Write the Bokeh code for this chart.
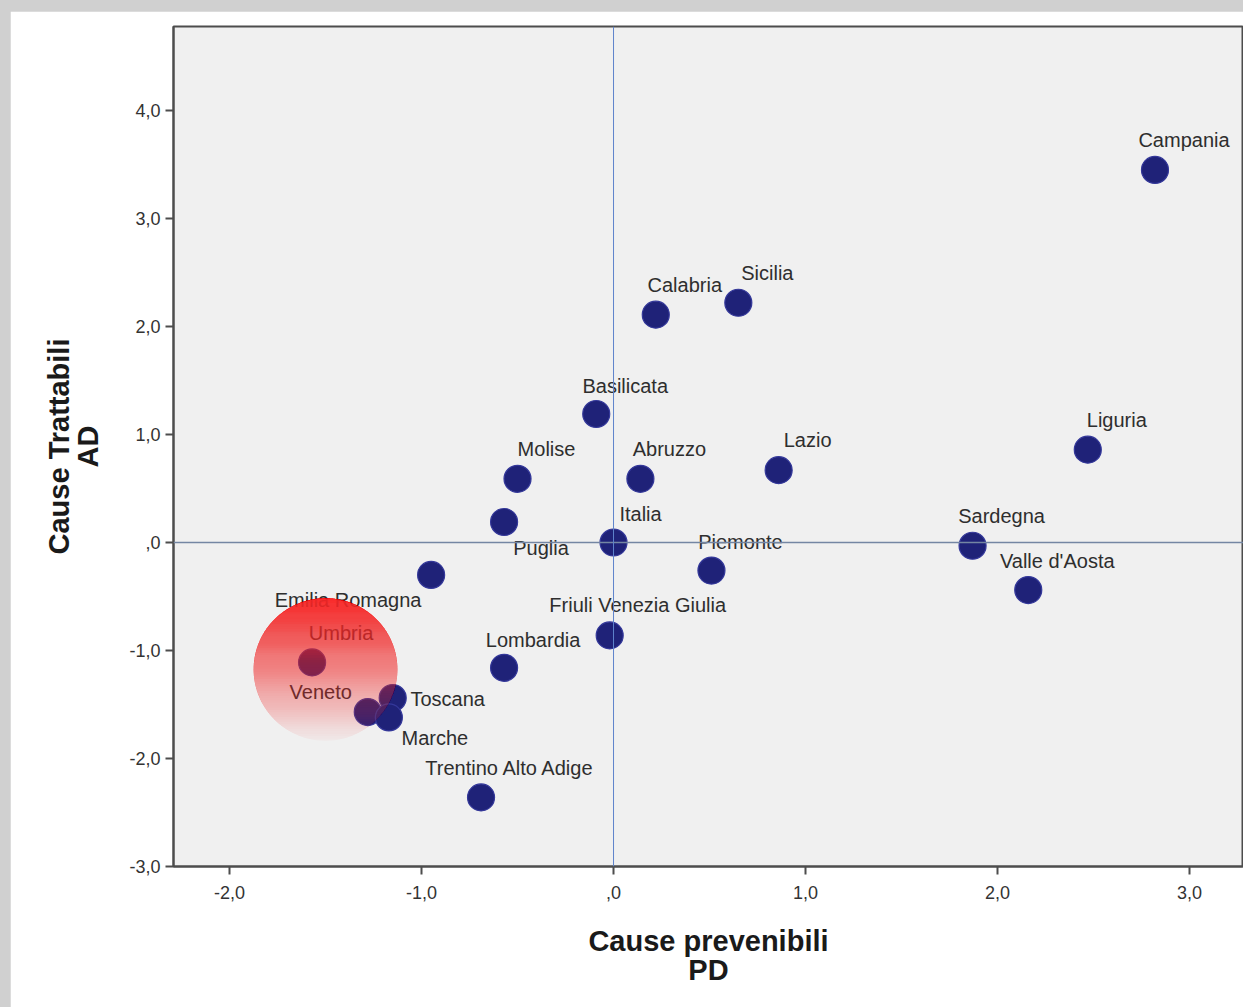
import numpy as np
from bokeh.plotting import figure
from bokeh.models import Range1d, Span, ColumnDataSource, FixedTicker
from bokeh.layouts import column
from bokeh.embed import file_html
from bokeh.resources import INLINE
from bokeh.core.properties import value

# ---------------- data ----------------
regions = ["Campania", "Sicilia", "Calabria", "Basilicata", "Molise", "Abruzzo",
           "Lazio", "Liguria", "Puglia", "Italia", "Piemonte", "Sardegna",
           "Valle d'Aosta", "Emilia Romagna", "Friuli Venezia Giulia", "Lombardia",
           "Umbria", "Veneto", "Toscana", "Marche", "Trentino Alto Adige"]
pd_score = [2.82, 0.65, 0.22, -0.09, -0.50, 0.14,
            0.86, 2.47, -0.57, 0.00, 0.51, 1.87,
            2.16, -0.95, -0.02, -0.57,
            -1.57, -1.28, -1.15, -1.17, -0.69]
ad_score = [3.45, 2.22, 2.11, 1.19, 0.59, 0.59,
            0.67, 0.86, 0.19, 0.00, -0.26, -0.03,
            -0.44, -0.30, -0.86, -1.16,
            -1.11, -1.57, -1.44, -1.62, -2.36]

x_ticks = [-2, -1, 0, 1, 2, 3]
x_tick_labels = ["-2,0", "-1,0", ",0", "1,0", "2,0", "3,0"]
y_ticks = [-3, -2, -1, 0, 1, 2, 3, 4]
y_tick_labels = ["-3,0", "-2,0", "-1,0", ",0", "1,0", "2,0", "3,0", "4,0"]

x_title = "Cause prevenibili\nPD"
y_title = "Cause Trattabili\nAD"

# label placement (screen pixels, relative to the point)
label_dx = [29, 29, 29, 29, 29, 29, 29, 29, 37, 27, 29, 29, 29, -83, 28, 29, 29, -47, 55, 46, 29]
label_dy = [-30, -30, -30, -28, -30, -30, -30, -30, 26, -29, -29, -30, -29, 25, -30, -28, -29, -20, 1, 21, -29]

# highlight (annotation) around the Umbria / Veneto group
hl_cx, hl_cy = -1.50, -1.176
hl_rx, hl_ry = 0.375, 0.66

# ---------------- figure ----------------
p = figure(width=1233, height=996,
           x_range=Range1d(-2.2917, 3.281), y_range=Range1d(-3.0, 4.778),
           output_backend="svg", toolbar_location=None,
           min_border_left=163, min_border_top=15, min_border_bottom=141,
           min_border_right=0)
p.background_fill_color = "#f0f0f0"
p.border_fill_color = "white"
p.outline_line_color = "#4d4d4d"
p.outline_line_width = 2
p.grid.visible = False

for ax in (p.xaxis, p.yaxis):
    ax.axis_line_color = "#4d4d4d"
    ax.axis_line_width = 2
    ax.major_tick_line_color = "#4d4d4d"
    ax.major_tick_line_width = 2
    ax.major_tick_out = 8
    ax.major_tick_in = 0
    ax.minor_tick_out = 0
    ax.minor_tick_in = 0
    ax.major_label_text_font = "Liberation Sans"
    ax.major_label_text_font_size = "18px"
    ax.major_label_text_color = "#333333"
    ax.axis_label_text_font = "Liberation Sans"
    ax.axis_label_text_font_style = "bold"
    ax.axis_label_text_font_size = "29px"
    ax.axis_label_text_color = "#1a1a1a"
    ax.axis_label_text_line_height = 0.93

p.xaxis.ticker = FixedTicker(ticks=x_ticks)
p.yaxis.ticker = FixedTicker(ticks=y_ticks)
p.xaxis.major_label_overrides = {t: l for t, l in zip(x_ticks, x_tick_labels)}
p.yaxis.major_label_overrides = {t: l for t, l in zip(y_ticks, y_tick_labels)}
p.xaxis.axis_label = x_title
p.yaxis.axis_label = y_title
p.xaxis.major_label_standoff = 11
p.yaxis.major_label_standoff = 5
p.xaxis.axis_label_standoff = 23
p.yaxis.axis_label_standoff = 22

src = ColumnDataSource(dict(x=pd_score, y=ad_score, name=regions,
                            dx=label_dx, dy=label_dy))

p.scatter("x", "y", source=src, size=27, fill_color="#1f2278",
          line_color="#34389a", line_width=1.2)
p.text("x", "y", text="name", source=src, x_offset="dx", y_offset="dy",
       text_align="center", text_baseline="middle",
       text_font=value("Liberation Sans"), text_font_size="20px",
       text_color="#2e2e2e")

# gradient highlight built from stacked elliptical caps
N = 60
t_edges = np.arange(1, N + 1) / N
t_mid = (np.arange(N) + 0.5) / N
alpha_target = 0.95 * (1 - t_mid) + 0.03
alpha_next = np.append(alpha_target[1:], 0.0)
cap_alpha = 1 - (1 - alpha_target) / (1 - alpha_next)
xs, ys = [], []
for te in t_edges:
    s = 1 - 2 * te  # sin of the cap's bottom chord
    th0 = np.arcsin(np.clip(s, -1, 1))
    th = np.linspace(th0, np.pi - th0, 80)
    xs.append(list(hl_cx + hl_rx * np.cos(th)))
    ys.append(list(hl_cy + hl_ry * np.sin(th)))
p.patches(xs, ys, fill_color="#ff3030", fill_alpha=list(cap_alpha), line_color=None)

p.add_layout(Span(location=0, dimension="width", line_color="#7486a3", line_width=1.5))
p.add_layout(Span(location=0, dimension="height", line_color="#5f84cc", line_width=1))

layout = column(p, styles={"background-color": "#d0d0d0", "padding-top": "11px",
                           "padding-left": "10px"})

open("out.html", "w").write(file_html(layout, INLINE))
